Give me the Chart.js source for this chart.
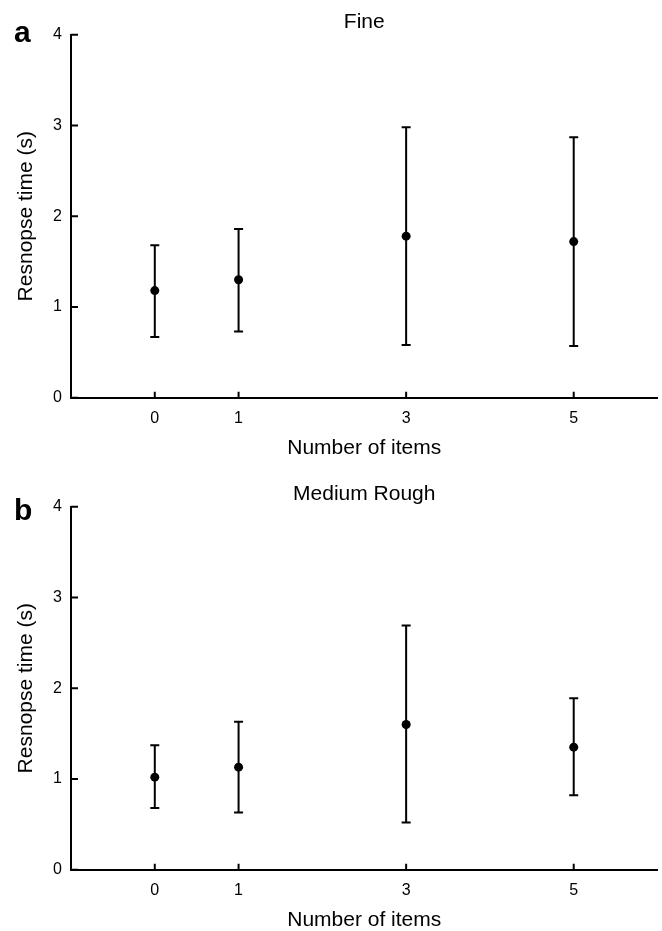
<!DOCTYPE html>
<html>
<head>
<meta charset="utf-8">
<script src="https://cdn.jsdelivr.net/npm/chart.js@4.4.1/dist/chart.umd.min.js"></script>
<style>
  html, body { margin: 0; padding: 0; background: #fff; }
  body { width: 662px; height: 931px; overflow: hidden; position: relative; }
  .panel { position: absolute; left: 0; width: 662px; height: 472px; }
</style>
</head>
<body>
<div class="panel" style="top:0"><canvas id="chartA"></canvas></div>
<div class="panel" style="top:472px"><canvas id="chartB"></canvas></div>
<script>
const items = [0, 1, 3, 5];
const xTicks = [0, 1, 3, 5];
const yTicks = [0, 1, 2, 3, 4];

// panel a - Fine
const fineMean = [1.18, 1.30, 1.78, 1.72];
const fineLow  = [0.67, 0.73, 0.58, 0.57];
const fineHigh = [1.68, 1.86, 2.98, 2.87];

// panel b - Medium Rough
const roughMean = [1.02, 1.13, 1.60, 1.35];
const roughLow  = [0.68, 0.63, 0.52, 0.82];
const roughHigh = [1.37, 1.63, 2.69, 1.89];

const FONT = "'Liberation Sans', Arial, sans-serif";

// error bars + inward ticks + panel letter/title
const extras = {
  id: 'extras',
  beforeDatasetsDraw(chart, args, opts) {
    const {ctx, scales: {x, y}} = chart;
    ctx.save();
    ctx.strokeStyle = '#000';
    ctx.lineWidth = 2;
    opts.low.forEach((lo, i) => {
      const px = x.getPixelForValue(items[i]);
      const yl = y.getPixelForValue(lo);
      const yh = y.getPixelForValue(opts.high[i]);
      ctx.beginPath();
      ctx.moveTo(px, yl); ctx.lineTo(px, yh);
      ctx.moveTo(px - 4.5, yl); ctx.lineTo(px + 4.5, yl);
      ctx.moveTo(px - 4.5, yh); ctx.lineTo(px + 4.5, yh);
      ctx.stroke();
    });
    ctx.restore();
  },
  afterDraw(chart, args, opts) {
    const {ctx, chartArea, scales: {x, y}} = chart;
    ctx.save();
    ctx.strokeStyle = '#000';
    ctx.lineWidth = 2;
    ctx.beginPath();
    yTicks.forEach(v => {
      const py = y.getPixelForValue(v);
      ctx.moveTo(chartArea.left, py); ctx.lineTo(chartArea.left + 7, py);
    });
    xTicks.forEach(v => {
      const px = x.getPixelForValue(v);
      ctx.moveTo(px, chartArea.bottom); ctx.lineTo(px, chartArea.bottom - 6);
    });
    ctx.stroke();

    ctx.fillStyle = '#000';
    ctx.textAlign = 'center';
    ctx.textBaseline = 'middle';
    ctx.font = '21px ' + FONT;
    ctx.fillText(opts.title, (chartArea.left + chartArea.right) / 2, 22.5);
    ctx.textAlign = 'left';
    ctx.textBaseline = 'alphabetic';
    ctx.font = 'bold 30px ' + FONT;
    ctx.fillText(opts.letter, 14, opts.letterY);
    ctx.restore();
  }
};

function makePanel(id, title, letter, letterY, mean, low, high) {
  new Chart(document.getElementById(id), {
    type: 'scatter',
    data: {
      datasets: [{
        data: items.map((v, i) => ({x: v, y: mean[i]})),
        backgroundColor: '#000',
        borderWidth: 0,
        pointRadius: 4.5
      }]
    },
    options: {
      responsive: true,
      maintainAspectRatio: false,
      animation: false,
      layout: { padding: { top: 34.7, right: 3.7, left: 0, bottom: 0 } },
      plugins: {
        legend: { display: false },
        tooltip: { enabled: false },
        extras: { title: title, letter: letter, letterY: letterY, low: low, high: high }
      },
      scales: {
        x: {
          type: 'linear',
          min: -1, max: 6,
          afterFit: s => { s.height = 74.3; },
          afterBuildTicks: s => { s.ticks = xTicks.map(v => ({value: v})); },
          grid: { display: false, drawTicks: false },
          border: { display: true, color: '#000', width: 2 },
          ticks: { color: '#000', padding: 11, font: { size: 16, family: FONT } },
          title: { display: true, text: 'Number of items', color: '#000',
                   font: { size: 21, family: FONT }, padding: { top: 0, bottom: 11.4 } }
        },
        y: {
          min: 0, max: 4,
          afterFit: s => { s.width = 71; },
          afterBuildTicks: s => { s.ticks = yTicks.map(v => ({value: v})); },
          grid: { display: false, drawTicks: false },
          border: { display: true, color: '#000', width: 2 },
          ticks: { color: '#000', padding: 9, font: { size: 16, family: FONT } },
          title: { display: true, text: 'Resnopse time (s)', color: '#000',
                   font: { size: 21, family: FONT }, padding: { top: 13.4, bottom: 0 } }
        }
      }
    },
    plugins: [extras]
  });
}

makePanel('chartA', 'Fine', 'a', 42, fineMean, fineLow, fineHigh);
makePanel('chartB', 'Medium Rough', 'b', 48, roughMean, roughLow, roughHigh);
</script>
</body>
</html>
